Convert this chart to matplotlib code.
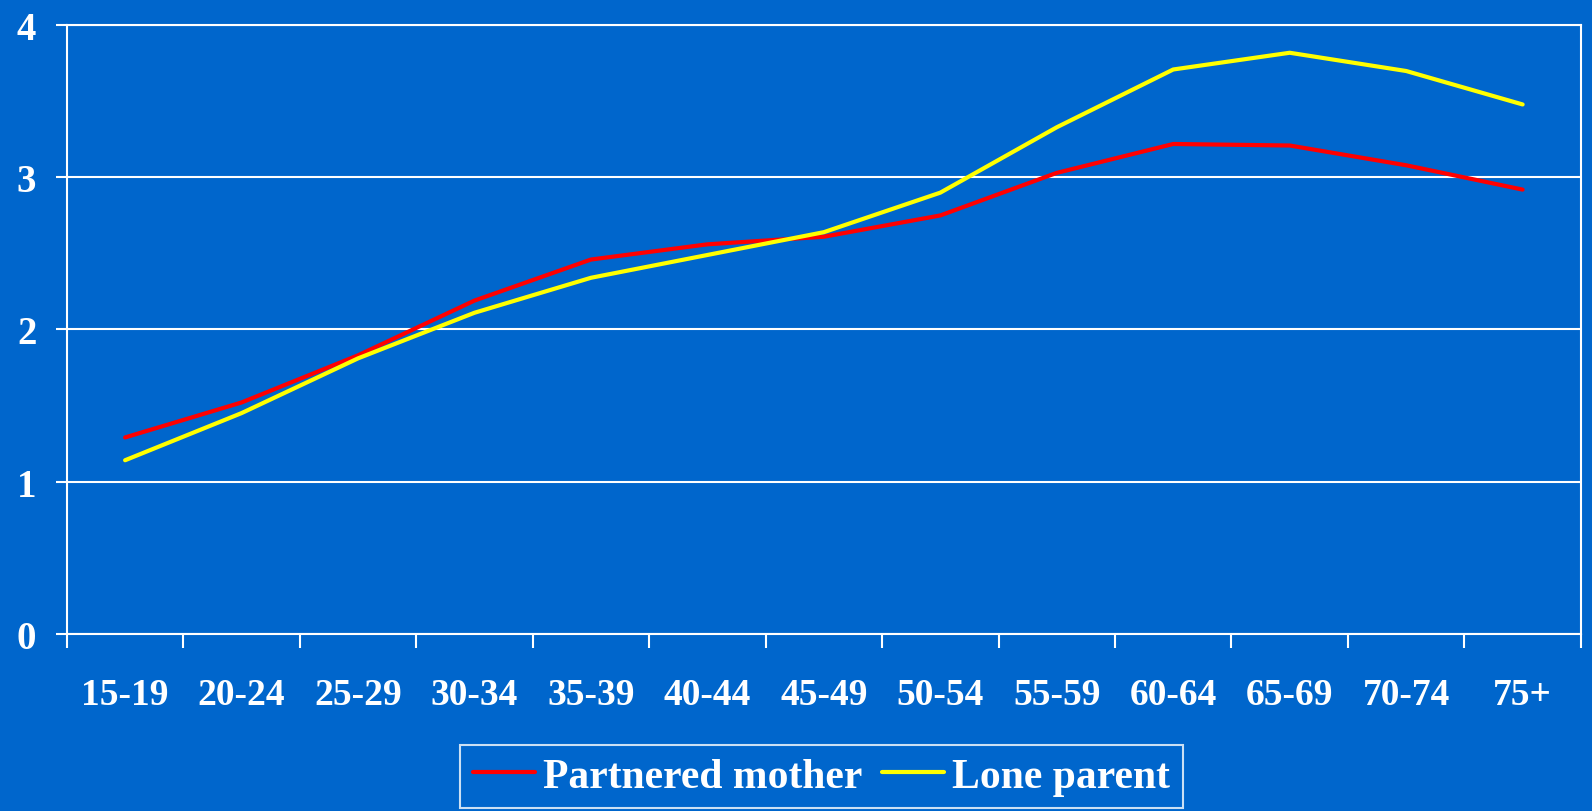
import matplotlib.pyplot as plt
import numpy as np

age_groups = ["15-19", "20-24", "25-29", "30-34", "35-39", "40-44", "45-49",
              "50-54", "55-59", "60-64", "65-69", "70-74", "75+"]
partnered_mother = [1.29, 1.52, 1.83, 2.19, 2.46, 2.56, 2.61, 2.75, 3.03, 3.22, 3.21, 3.08, 2.92]
lone_parent = [1.14, 1.45, 1.81, 2.11, 2.34, 2.49, 2.64, 2.90, 3.33, 3.71, 3.82, 3.70, 3.48]

bg = "#0066CC"
plt.rcParams['font.family'] = ['Liberation Serif', 'DejaVu Serif']
plt.rcParams['font.weight'] = 'bold'

fig = plt.figure(figsize=(15.92, 8.12), dpi=100, facecolor=bg)
ax = fig.add_axes([0.042, 0.2185, 0.951, 0.749])
ax.set_facecolor(bg)

x = np.arange(len(age_groups)) + 0.5
ax.plot(x, partnered_mother, color="#FF0000", lw=3, label="Partnered mother", solid_capstyle='round')
ax.plot(x, lone_parent, color="#FFFF00", lw=3, label="Lone parent", solid_capstyle='round')

ax.set_xlim(0, len(age_groups))
ax.set_ylim(0, 4)
ax.set_yticks([0, 1, 2, 3, 4])
ax.set_xticks(np.arange(len(age_groups) + 1))
ax.set_xticklabels([])
ax.set_xticks(x, minor=True)
ax.set_xticklabels(age_groups, minor=True)
ax.tick_params(axis='x', which='major', length=10, width=1.5, color='white', direction='out')
ax.tick_params(axis='x', which='minor', length=0, pad=31, labelsize=27, labelcolor='white')
ax.tick_params(axis='y', length=8, width=1.5, color='white', labelsize=28, labelcolor='white', pad=14)

ax.grid(axis='y', color='white', lw=1.5)
ax.set_axisbelow(True)
for s in ax.spines.values():
    s.set_color('white')
    s.set_linewidth(1.5)

leg = ax.legend(loc='center', bbox_to_anchor=(0.516, 0.042), bbox_transform=fig.transFigure,
                ncol=2, frameon=True, fancybox=False, fontsize=30, handlelength=1.5,
                handletextpad=0.2, columnspacing=0.45, borderpad=0.3, labelcolor='white')
leg.get_frame().set_facecolor(bg)
leg.get_frame().set_edgecolor('white')
leg.get_frame().set_linewidth(1.5)

fig.savefig("out.png", dpi=100, facecolor=bg)
